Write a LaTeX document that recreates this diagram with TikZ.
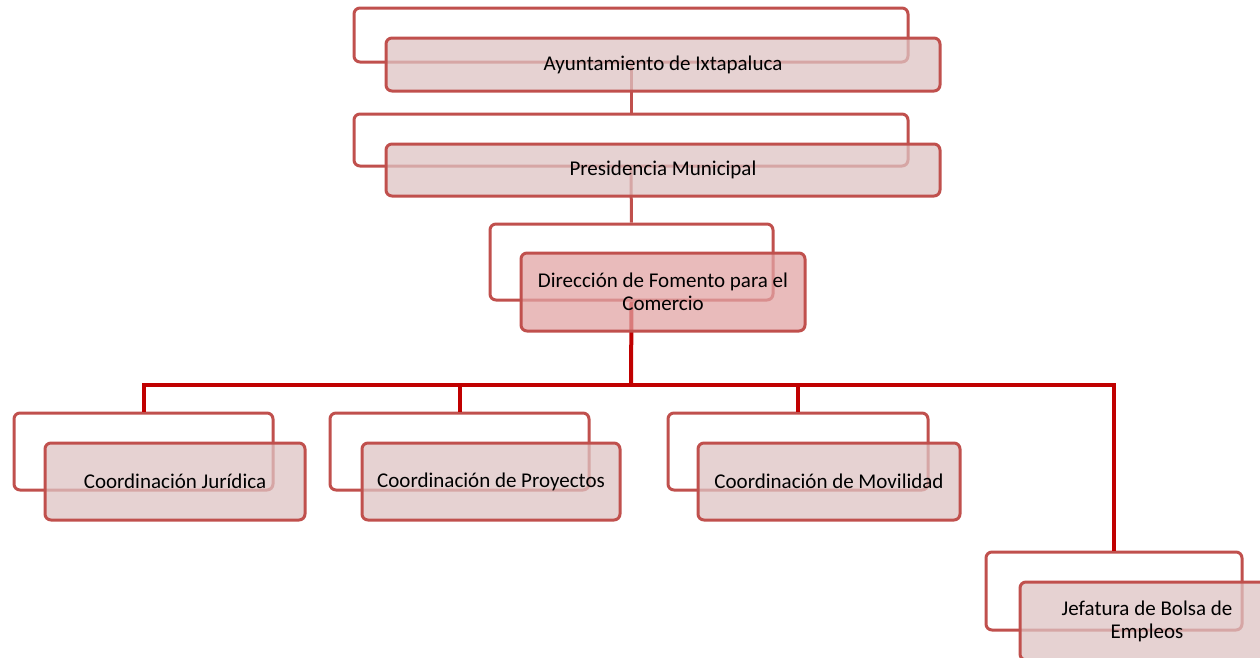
\documentclass[tikz,border=0pt]{standalone}
\usepackage{fontspec}
\setmainfont{Carlito}
\usepackage{tikz}
\usetikzlibrary{positioning}
\definecolor{BoxLine}{RGB}{192,80,77}
\definecolor{BoxFill}{RGB}{222,195,195}
\definecolor{HeadFill}{RGB}{226,164,164}
\definecolor{BusRed}{RGB}{192,0,0}
\tikzset{
  backbox/.style={draw=BoxLine, line width=3pt, rounded corners=6pt, minimum height=#1},
  backbox/.default=54pt,
  frontbox/.style={draw=BoxLine, line width=3pt, rounded corners=6pt, fill=BoxFill,
    fill opacity=0.75, text opacity=1, align=center, font=\fontsize{21}{23}\selectfont},
  link/.style={BoxLine, line width=3pt},
  bus/.style={BusRed, line width=4pt},
}

\begin{document}
\begin{tikzpicture}[x=1pt,y=-1pt]
      \useasboundingbox (0,0) rectangle (1260,657);
      \clip (0,0) rectangle (1260,657);
      % back frames
      \node[backbox, minimum width=554pt] (ayB) at (631,35) {};
      \node[backbox, minimum width=554pt, minimum height=52pt] (prB) at (631,140) {};
      \node[backbox=76pt, minimum width=283pt] (dirB) at (631.5,262) {};
      \node[backbox=77pt, minimum width=259pt] (cjB) at (143.5,451.5) {};
      \node[backbox=77pt, minimum width=259pt] (cpB) at (459.5,451.5) {};
      \node[backbox=77pt, minimum width=260pt] (cmB) at (798,451.5) {};
      \node[backbox=78pt, minimum width=256pt] (jbB) at (1114,591) {};
      % connectors
      \draw[link] (ayB) -- (prB);
      \draw[link] (prB) -- (dirB);
      \coordinate (bus) at (631,385);
      \draw[bus] (dirB.south) -- (bus);
      \draw[bus] (bus) -| (cjB.north);
      \draw[bus] (bus) -| (cpB.north);
      \draw[bus] (bus) -| (cmB.north);
      \draw[bus] (bus) -| (jbB.north);
      % front boxes
      \node[frontbox, minimum width=554pt, minimum height=53pt] (ay) at (663,64.5)
        {Ayuntamiento de Ixtapaluca};
      \node[frontbox, minimum width=554pt, minimum height=52pt] (pr) at (663,170)
        {Presidencia Municipal};
      \node[frontbox, fill=HeadFill, minimum width=284pt, minimum height=78pt] (dir) at (663,292)
        {Dirección de Fomento para el\\Comercio};
      \node[frontbox, minimum width=260pt, minimum height=77pt] (cj) at (175,481.5)
        {Coordinación Jurídica};
      \node[frontbox, minimum width=258pt, minimum height=77pt] (cp) at (491,481.5)
        {Coordinación de Proyectos};
      \node[frontbox, minimum width=262pt, minimum height=77pt] (cm) at (829,481.5)
        {Coordinación de Movilidad};
      \node[frontbox, minimum width=254pt, minimum height=78pt] (jb) at (1147,621)
        {Jefatura de Bolsa de\\Empleos};
    \end{tikzpicture}
\end{document}
